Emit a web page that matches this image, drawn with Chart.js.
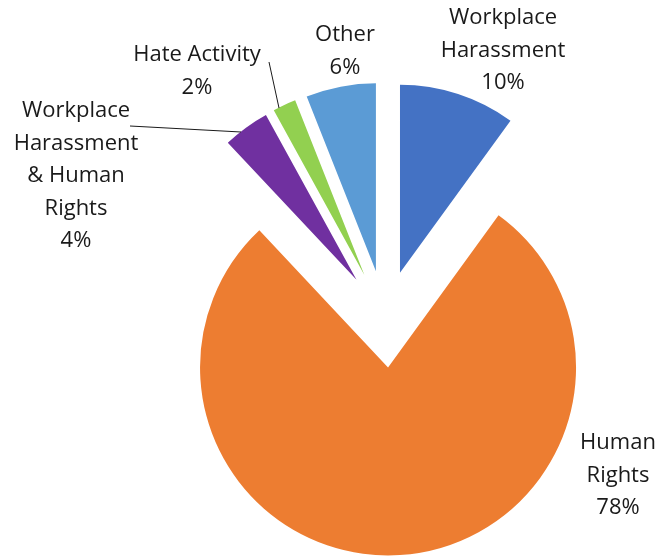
<!DOCTYPE html>
<html>
<head>
<meta charset="utf-8">
<script src="https://cdn.jsdelivr.net/npm/chart.js@4.4.1/dist/chart.umd.min.js"></script>
<style>
  html, body { margin: 0; padding: 0; background: #fff; }
  #wrap { width: 659px; height: 558px; }
</style>
</head>
<body>
<div id="wrap"><canvas id="casesChart"></canvas></div>
<script>
// complaint categories, clockwise from 12 o'clock
const categories = ['Workplace Harassment', 'Human Rights', 'Workplace Harassment & Human Rights', 'Hate Activity', 'Other'];
const shares = [10, 78, 4, 2, 6];
// how each category label wraps on the chart
const labelLines = [
    ['Workplace', 'Harassment'],
    ['Human', 'Rights'],
    ['Workplace', 'Harassment', '& Human', 'Rights'],
    ['Hate Activity'],
    ['Other']
];
const sliceColors = ['#4472C4', '#ED7D31', '#7030A0', '#92D050', '#5B9BD5'];

const EXPLODE = 48.5;   // px each slice is pulled out from the centre
const RADIUS = 188;
const LINE_H = 32.5;
const FONT = '22px "Open Sans"';

// label block centres (x, first line y) relative to the pie centre,
// plus optional leader line [x1, y1, x2, y2]
const labelLayout = [
    { x: 118, y: -301 },
    { x: 233, y: 124 },
    { x: -309, y: -208, leader: [-255, -193, -144, -187] },
    { x: -188, y: -264, leader: [-116, -257, -106, -211] },
    { x: -40, y: -284 }
];

// pie controller that pulls every slice out along its mid angle without resizing it
class ExplodedPieController extends Chart.PieController {
    static id = 'explodedPie';
    draw() {
        const ctx = this.chart.ctx;
        for (const arc of this._cachedMeta.data) {
            const mid = (arc.startAngle + arc.endAngle) / 2;
            ctx.save();
            ctx.translate(Math.cos(mid) * EXPLODE, Math.sin(mid) * EXPLODE);
            arc.draw(ctx, this.chart.chartArea);
            ctx.restore();
        }
    }
}
Chart.register(ExplodedPieController);

const sliceLabels = {
    id: 'sliceLabels',
    afterDatasetsDraw(chart) {
        const ctx = chart.ctx;
        const arc0 = chart.getDatasetMeta(0).data[0];
        const cx = arc0.x, cy = arc0.y;
        ctx.save();
        ctx.strokeStyle = '#1a1a1a';
        ctx.lineWidth = 1;
        ctx.fillStyle = '#1a1a1a';
        ctx.font = FONT;
        ctx.textAlign = 'center';
        ctx.textBaseline = 'middle';
        labelLayout.forEach((pos, i) => {
            if (pos.leader) {
                const [x1, y1, x2, y2] = pos.leader;
                ctx.beginPath();
                ctx.moveTo(cx + x1, cy + y1);
                ctx.lineTo(cx + x2, cy + y2);
                ctx.stroke();
            }
            const lines = labelLines[i].concat([shares[i] + '%']);
            lines.forEach((t, j) => {
                ctx.fillText(t, cx + pos.x, cy + pos.y + j * LINE_H);
            });
        });
        ctx.restore();
    }
};

const ctxCases = document.getElementById('casesChart');

const casesChart = new Chart(ctxCases, {
    type: 'explodedPie',
    data: {
        labels: categories,
        datasets: [{
            data: shares,
            backgroundColor: sliceColors,
            borderWidth: 0,
            offset: 0,
            hoverOffset: 0
        }]
    },
    options: {
        responsive: true,
        maintainAspectRatio: false,
        animation: false,
        radius: RADIUS,
        rotation: 0,
        layout: {
            padding: { left: 111, top: 80, right: 0, bottom: 0 }
        },
        plugins: {
            legend: { display: false },
            tooltip: { enabled: false }
        },
        events: []
    },
    plugins: [sliceLabels]
});
</script>
</body>
</html>
